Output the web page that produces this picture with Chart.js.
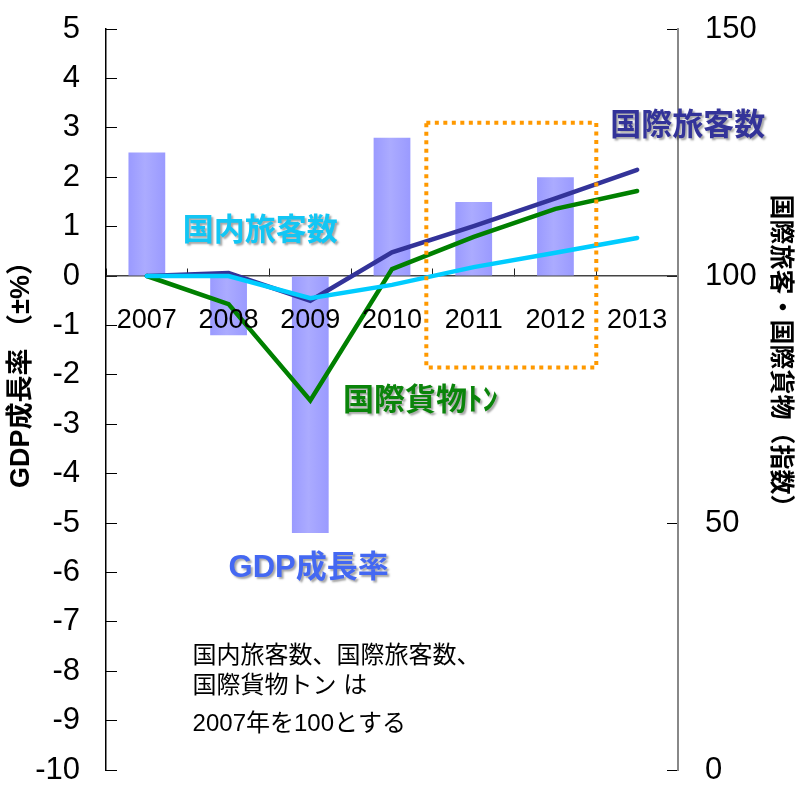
<!DOCTYPE html>
<html><head><meta charset="utf-8">
<script src="https://cdn.jsdelivr.net/npm/chart.js@4"></script>
<style>html,body{margin:0;padding:0;background:#fff;} #wrap{width:798px;height:795px;}</style>
</head><body><div id="wrap"><canvas id="c" width="798" height="795"></canvas></div>
<script>
// ---- data ----
const years = ['2007','2008','2009','2010','2011','2012','2013'];
const gdpGrowth = [2.5, -1.2, -5.2, 2.8, 1.5, 2.0, null];          // left axis, %
const intlPassengers = [100, 100.6, 95.0, 104.8, 110.1, 115.7, 121.5]; // right axis, index
const intlCargo = [100, 94.3, 74.8, 101.4, 107.9, 113.6, 117.2];
const domesticPassengers = [100, 100, 95.5, 98.2, 101.8, 104.7, 107.7];
const leftAxisTitle = 'GDP成長率 （±%）';
const rightAxisTitle = '国際旅客・国際貨物（指数）';
const noteLines = ['国内旅客数、国際旅客数、', '国際貨物トン は', '2007年を100とする'];

// ---- annotation placement (in scale units: x = category index, y = left-axis value) ----
const seriesLabels = [
  {text: '国際旅客数', x: 5.67, y: 3.02, color: '#333399'},
  {text: '国内旅客数', x: 0.44, y: 0.91, color: '#12C6F4'},
  {text: '国際貨物ﾄﾝ', x: 2.40, y: -2.53, color: '#0A840A'},
  {text: 'GDP成長率', x: 1.00, y: -5.93, color: '#4468F2'}
];
const highlightBox = {x0: 3.42, x1: 5.50, y0: -1.85, y1: 3.10};
const noteAnchor = {x: 0.56, y: [-7.69, -8.30, -9.07]};

const FONT_LAT = "'Liberation Sans', Arial, 'Noto Sans CJK JP', sans-serif";
const FONT_JP = "'Liberation Sans', 'Noto Sans CJK JP', sans-serif";

const overlay = {
  id: 'overlay',
  afterDatasetsDraw(chart) {
    const c = chart.ctx, xs = chart.scales.x, ys = chart.scales.y;
    c.save();
    c.strokeStyle = '#FF9900';
    c.lineWidth = 4;
    c.setLineDash([4, 4.5]);
    const bx0 = xs.getPixelForValue(highlightBox.x0), bx1 = xs.getPixelForValue(highlightBox.x1);
    const by0 = ys.getPixelForValue(highlightBox.y1), by1 = ys.getPixelForValue(highlightBox.y0);
    c.strokeRect(bx0, by0, bx1 - bx0, by1 - by0);
    c.restore();
    seriesLabels.forEach(l => {
      c.save();
      c.font = "bold 31px " + FONT_JP;
      c.fillStyle = l.color;
      c.textAlign = 'left';
      c.textBaseline = 'middle';
      c.shadowColor = 'rgba(0,0,0,0.35)';
      c.shadowOffsetX = 2; c.shadowOffsetY = 2; c.shadowBlur = 2;
      c.fillText(l.text, xs.getPixelForValue(l.x), ys.getPixelForValue(l.y));
      c.restore();
    });
    c.save();
    c.font = "24px " + FONT_JP;
    c.fillStyle = '#000';
    c.textAlign = 'left';
    c.textBaseline = 'middle';
    noteLines.forEach((t, i) => c.fillText(t, xs.getPixelForValue(noteAnchor.x), ys.getPixelForValue(noteAnchor.y[i])));
    c.restore();
  },
  afterDraw(chart) {
    const c = chart.ctx;
    c.save();
    c.fillStyle = '#000';
    c.textAlign = 'center';
    c.textBaseline = 'middle';
    c.font = "bold 27px " + FONT_JP;
    c.translate(22, 368);
    c.rotate(-Math.PI / 2);
    c.fillText(leftAxisTitle, 0, 0);
    c.restore();
    c.save();
    c.fillStyle = '#000';
    c.textAlign = 'center';
    c.textBaseline = 'middle';
    c.font = "bold 25px " + FONT_JP;
    c.translate(780, 357);
    c.rotate(Math.PI / 2);
    c.fillText(rightAxisTitle, 0, 0);
    c.restore();
  }
};

function barFill(ctx) {
  const chart = ctx.chart, xs = chart.scales && chart.scales.x;
  if (!xs || ctx.type !== 'data' || !chart.chartArea) return '#A3A3FF';
  const cx = xs.getPixelForValue(ctx.dataIndex);
  const w = xs.width / years.length * 0.45;
  const g = chart.ctx.createLinearGradient(cx - w / 2, 0, cx + w / 2, 0);
  g.addColorStop(0, '#9A9AFF');
  g.addColorStop(0.45, '#ABABFF');
  g.addColorStop(1, '#9A9AFF');
  return g;
}

function fixVertical(width) {
  return function (s) { s.width = width; s.paddingTop = 0; s.paddingBottom = 0; };
}

new Chart(document.getElementById('c'), {
  type: 'bar',
  data: {
    labels: years,
    datasets: [
      {type: 'line', label: '国内旅客数', data: domesticPassengers, yAxisID: 'y2', borderColor: '#00CCFF', borderWidth: 4.5, pointRadius: 0, tension: 0, borderCapStyle: 'round', order: 0},
      {type: 'line', label: '国際貨物トン', data: intlCargo, yAxisID: 'y2', borderColor: '#008000', borderWidth: 4.5, pointRadius: 0, tension: 0, borderCapStyle: 'round', order: 1},
      {type: 'line', label: '国際旅客数', data: intlPassengers, yAxisID: 'y2', borderColor: '#333399', borderWidth: 4.5, pointRadius: 0, tension: 0, borderCapStyle: 'round', order: 2},
      {type: 'bar', label: 'GDP成長率', data: gdpGrowth, yAxisID: 'y', backgroundColor: barFill, borderWidth: 0, categoryPercentage: 1, barPercentage: 0.45, order: 3}
    ]
  },
  options: {
    responsive: false,
    animation: false,
    devicePixelRatio: 1,
    layout: {padding: {top: 29, bottom: 25, left: 0, right: 0}},
    plugins: {legend: {display: false}, tooltip: {enabled: false}},
    scales: {
      x: {
        position: {y: 0},
        offset: true,
        grid: {drawOnChartArea: false, drawTicks: true, tickLength: -8, color: '#222', offset: true, lineWidth: 1},
        border: {color: '#444', width: 1.5},
        ticks: {z: 1, color: '#000', font: {size: 27, family: FONT_LAT}, padding: 36, maxRotation: 0, autoSkip: false},
        afterFit(s) { s.paddingLeft = 0; s.paddingRight = 0; }
      },
      y: {
        position: 'left',
        min: -10, max: 5,
        grid: {drawOnChartArea: false, tickLength: -11, color: '#000'},
        border: {color: '#000', width: 1.5},
        ticks: {stepSize: 1, color: '#000', font: {size: 31, family: FONT_LAT}, padding: 37},
        afterFit: fixVertical(106)
      },
      y2: {
        position: 'right',
        min: 0, max: 150,
        grid: {drawOnChartArea: false, tickLength: -11, color: '#000'},
        border: {color: '#888', width: 2},
        ticks: {stepSize: 50, color: '#000', font: {size: 31, family: FONT_LAT}, padding: 38},
        afterFit: fixVertical(120)
      }
    }
  },
  plugins: [overlay]
});
</script>
</body></html>
